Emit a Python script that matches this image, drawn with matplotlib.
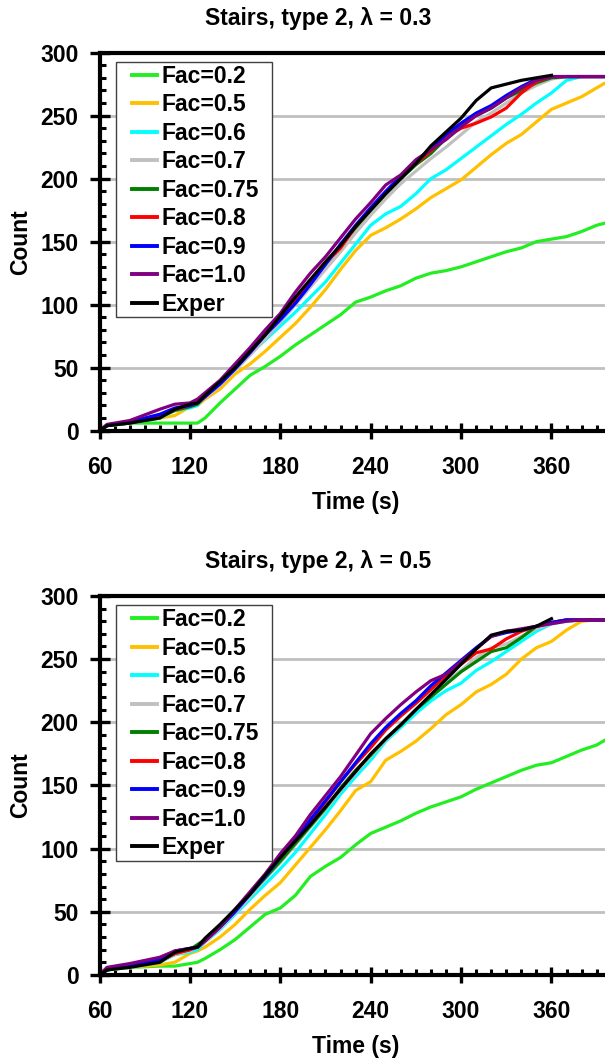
import numpy as np
import matplotlib
matplotlib.use("Agg")
import matplotlib.pyplot as plt
from matplotlib.ticker import MultipleLocator
from matplotlib.patches import Rectangle

plt.rcParams['font.family'] = ['Liberation Sans', 'DejaVu Sans']
plt.rcParams['font.weight'] = 'bold'

nan = np.nan
time_s = [60, 65, 80, 100, 110, 120, 125, 130, 140, 150, 160, 170, 180, 190, 200, 210, 220, 230,
          240, 250, 260, 270, 280, 290, 300, 310, 320, 330, 340, 350, 360, 370, 380, 390, 400]

labels = ["Fac=0.2", "Fac=0.5", "Fac=0.6", "Fac=0.7", "Fac=0.75", "Fac=0.8", "Fac=0.9", "Fac=1.0", "Exper"]
colors = ["#22EE22", "#FFC000", "#00FFFF", "#C0C0C0", "#008000", "#FF0000", "#0000FF", "#800080", "#000000"]

titles = ["Stairs, type 2, \u03bb = 0.3", "Stairs, type 2, \u03bb = 0.5"]

# --- lambda = 0.3 ---
fac02_a = [0, 4, 6, 6, 6, 6, 6, 10, 22, 33, 44, 51, 59, 68, 76, 84, 92, 102, 106, 111, 115, 121, 125, 127, 130, 134, 138, 142, 145, 150, 152, 154, 158, 163, 166]
fac05_a = [0, 4, 6, 10, 12, 19, 20, 25, 33, 45, 53, 63, 74, 85, 98, 112, 128, 143, 155, 161, 168, 176, 185, 192, 199, 209, 219, 228, 235, 245, 255, 260, 265, 272, 279]
fac06_a = [0, 4, 6, 10, 16, 18, 20, 27, 38, 50, 61, 72, 83, 94, 106, 118, 133, 148, 163, 172, 178, 188, 200, 207, 216, 225, 234, 243, 251, 260, 268, 278, 281, 281, 281]
fac07_a = [0, 4, 6, 11, 16, 19, 21, 26, 36, 48, 60, 73, 86, 100, 114, 128, 142, 157, 171, 184, 196, 206, 216, 225, 235, 245, 252, 260, 268, 274, 279, 281, 281, 281, 281]
fac075_a = [0, 4, 6, 11, 16, 19, 21, 27, 38, 50, 64, 78, 91, 105, 118, 132, 147, 161, 175, 188, 200, 211, 220, 232, 243, 250, 256, 264, 270, 276, 280, 281, 281, 281, 281]
fac08_a = [0, 4, 7, 12, 17, 20, 22, 27, 38, 50, 63, 77, 89, 102, 118, 133, 145, 162, 176, 189, 201, 212, 222, 233, 240, 244, 249, 256, 268, 277, 281, 281, 281, 281, 281]
fac09_a = [0, 4, 7, 13, 18, 20, 22, 27, 37, 49, 62, 76, 88, 101, 116, 132, 148, 163, 177, 190, 202, 213, 224, 235, 244, 252, 258, 266, 273, 279, 281, 281, 281, 281, 281]
fac10_a = [0, 5, 8, 17, 21, 22, 25, 30, 40, 53, 66, 80, 93, 110, 125, 138, 153, 168, 181, 195, 203, 215, 223, 231, 241, 250, 256, 264, 272, 278, 281, 281, 281, 281, 281]
exper_a = [0, 4, 6, 10, 17, 21, 22, 28, 39, 50, 63, 76, 91, 106, 120, 134, 147, 162, 175, 188, 200, 212, 226, 237, 248, 262, 272, 275, 278, 280, 282, nan, nan, nan, nan]

# --- lambda = 0.5 ---
fac02_b = [0, 4, 6, 7, 7, 9, 10, 13, 20, 28, 38, 48, 53, 63, 78, 86, 93, 103, 112, 117, 122, 128, 133, 137, 141, 147, 152, 157, 162, 166, 168, 173, 178, 182, 189]
fac05_b = [0, 4, 6, 8, 10, 17, 19, 22, 30, 40, 52, 63, 73, 87, 101, 115, 130, 146, 153, 170, 177, 185, 195, 206, 214, 224, 230, 238, 250, 259, 264, 273, 280, 281, 281]
fac06_b = [0, 4, 6, 10, 16, 18, 20, 26, 36, 48, 60, 72, 84, 97, 112, 127, 143, 157, 170, 185, 196, 207, 217, 225, 231, 241, 248, 256, 264, 272, 278, 280, 281, 281, 281]
fac07_b = [0, 4, 7, 11, 16, 19, 22, 26, 37, 49, 62, 76, 89, 103, 117, 131, 146, 160, 173, 186, 198, 210, 221, 232, 241, 251, 259, 262, 268, 274, 278, 281, 281, 281, 281]
fac075_b = [0, 4, 7, 11, 17, 20, 24, 28, 38, 51, 64, 77, 90, 104, 118, 132, 148, 162, 174, 187, 198, 210, 220, 230, 240, 248, 256, 259, 267, 276, 279, 281, 281, 281, 281]
fac08_b = [0, 4, 8, 11, 17, 20, 22, 27, 38, 51, 65, 79, 93, 107, 122, 137, 153, 167, 180, 194, 205, 215, 226, 237, 246, 255, 258, 266, 272, 276, 279, 281, 281, 281, 281]
fac09_b = [0, 4, 8, 12, 19, 21, 22, 27, 38, 50, 64, 78, 93, 107, 123, 138, 153, 168, 183, 196, 207, 217, 229, 239, 249, 259, 268, 271, 273, 276, 279, 281, 281, 281, 281]
fac10_b = [0, 6, 9, 14, 19, 21, 22, 27, 38, 52, 66, 80, 96, 110, 127, 142, 157, 174, 191, 203, 214, 224, 233, 238, 248, 258, 268, 272, 274, 276, 278, 280, 281, 281, 281]
exper_b = [0, 4, 6, 10, 18, 21, 22, 29, 40, 52, 64, 79, 93, 106, 119, 133, 147, 161, 175, 187, 198, 210, 222, 234, 246, 258, 269, 272, 273, 276, 282, nan, nan, nan, nan]

panels = [
    [fac02_a, fac05_a, fac06_a, fac07_a, fac075_a, fac08_a, fac09_a, fac10_a, exper_a],
    [fac02_b, fac05_b, fac06_b, fac07_b, fac075_b, fac08_b, fac09_b, fac10_b, exper_b],
]

fig = plt.figure(figsize=(6.05, 10.61), dpi=100)
positions = [[0.1645, 0.5941, 0.8466, 0.3563], [0.1645, 0.0811, 0.8466, 0.3572]]

FS = 16.5
for pos, series, title in zip(positions, panels, titles):
    ax = fig.add_axes(pos)
    for vals, lab, col in zip(series, labels, colors):
        ax.plot(time_s, vals, color=col, lw=2.3, label=lab, solid_joinstyle='round')
    ax.set_xlim(60, 400)
    ax.set_ylim(0, 300)
    ax.xaxis.set_major_locator(MultipleLocator(60))
    ax.xaxis.set_minor_locator(MultipleLocator(10))
    ax.yaxis.set_major_locator(MultipleLocator(50))
    ax.yaxis.set_minor_locator(MultipleLocator(10))
    ax.grid(axis='y', which='major', color='#C0C0C0', lw=2.0)
    ax.set_axisbelow(True)
    for s in ['left', 'bottom', 'top']:
        ax.spines[s].set_linewidth(3)
        ax.spines[s].set_color('black')
    ax.spines['right'].set_visible(False)
    ax.tick_params(axis='x', which='major', direction='inout', length=12, width=2.4, pad=12, labelsize=FS)
    ax.tick_params(axis='y', which='major', direction='inout', length=14, width=2.4, pad=8, labelsize=FS)
    ax.tick_params(which='minor', direction='in', length=4, width=2.2)
    for lbl in ax.get_xticklabels() + ax.get_yticklabels():
        lbl.set_fontweight('bold')
    ax.set_xlabel("Time (s)", fontsize=FS, fontweight='bold', labelpad=9)
    ax.set_ylabel("Count", fontsize=FS, fontweight='bold', labelpad=6)
    ax.set_title(title, fontsize=FS, fontweight='bold', x=0.427, pad=20)
    # legend frame drawn separately for exact placement
    ax.add_patch(Rectangle((0.0322, 0.301), 0.336 - 0.0322, 0.975 - 0.301, transform=ax.transAxes,
                           facecolor='white', edgecolor='#404040', lw=1.0, zorder=4))
    leg = ax.legend(loc='upper left', bbox_to_anchor=(0.0625, 0.968), borderaxespad=0,
                    prop={'weight': 'bold', 'size': FS}, frameon=False,
                    handlelength=1.1, handletextpad=0.22, borderpad=0.0, labelspacing=0.24)
    leg.set_zorder(5)
    for ln in leg.get_lines():
        ln.set_linewidth(2.8)

fig.savefig("out.png", dpi=100)
